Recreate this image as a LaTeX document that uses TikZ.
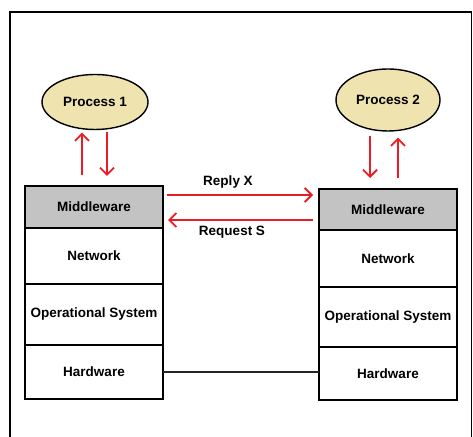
\documentclass[tikz,border=0pt]{standalone}
\usepackage{fontspec}
\setmainfont{Liberation Sans}
\usetikzlibrary{positioning,arrows.meta,shapes.geometric}

\definecolor{procfill}{HTML}{EFE4B0}
\definecolor{mwfill}{HTML}{C3C3C3}
\definecolor{msgred}{HTML}{ED1C24}

\tikzset{
  lbl/.style={font=\fontsize{13.5}{15}\selectfont\bfseries},
  layer/.style={lbl,draw,line width=1.7pt,minimum width=138pt,outer sep=0pt,inner sep=0pt},
  proc/.style={lbl,ellipse,draw,line width=1.4pt,fill=procfill,inner sep=0pt},
  msg/.style={draw=msgred,line width=1.8pt,-{Straight Barb[length=7pt,width=14pt]}},
}

\begin{document}
\begin{tikzpicture}[x=1pt,y=1pt,node distance=0pt]
\useasboundingbox (0,0) rectangle (473,436);
\draw[line width=1.7pt] (10,-4) -- (10,424) -- (471.5,424) -- (471.5,-4);

\node[proc,minimum width=106pt,minimum height=55pt] (p1) at (95,334) {Process 1};
\node[proc,minimum width=104pt,minimum height=62pt] (p2) at (388,336) {Process 2};

\node[layer,fill=mwfill,minimum height=42pt] (mw1) at (94,229) {Middleware};
\node[layer,minimum height=56pt,below=of mw1] (net1) {Network};
\node[layer,minimum height=61pt,below=of net1] (os1) {Operational System};
\node[layer,minimum height=54pt,below=of os1] (hw1) {Hardware};

\node[layer,fill=mwfill,minimum height=41pt] (mw2) at (388,226.5) {Middleware};
\node[layer,minimum height=57pt,below=of mw2] (net2) {Network};
\node[layer,minimum height=60pt,below=of net2] (os2) {Operational System};
\node[layer,minimum height=53pt,below=of os2] (hw2) {Hardware};

\draw[msg] ([xshift=-12pt,yshift=11pt]mw1.north) -- ([xshift=-13pt,yshift=-2.5pt]p1.south);
\draw[msg] ([xshift=12pt,yshift=-1.5pt]p1.south) -- ([xshift=13pt,yshift=10pt]mw1.north);
\draw[msg] ([xshift=-18pt,yshift=-4pt]p2.south) -- ([xshift=-18pt,yshift=11pt]mw2.north);
\draw[msg] ([xshift=10pt,yshift=11pt]mw2.north) -- ([xshift=10pt,yshift=-6pt]p2.south);

\draw[msg,shorten >=6pt] ([xshift=4pt,yshift=12pt]mw1.east) coordinate (rx) -- (rx -| mw2.west);
\draw[msg,shorten >=5pt] ([xshift=-6pt,yshift=-10.5pt]mw2.west) coordinate (rq) -- (rq -| mw1.east);
\node[lbl] (replylbl) at (228,254) {Reply X};
\node[lbl] (reqlbl) at (232,204) {Request S};

\draw[line width=1.5pt,black!85] (hw1.east) -- (hw1.east -| hw2.west);
\end{tikzpicture}
\end{document}
